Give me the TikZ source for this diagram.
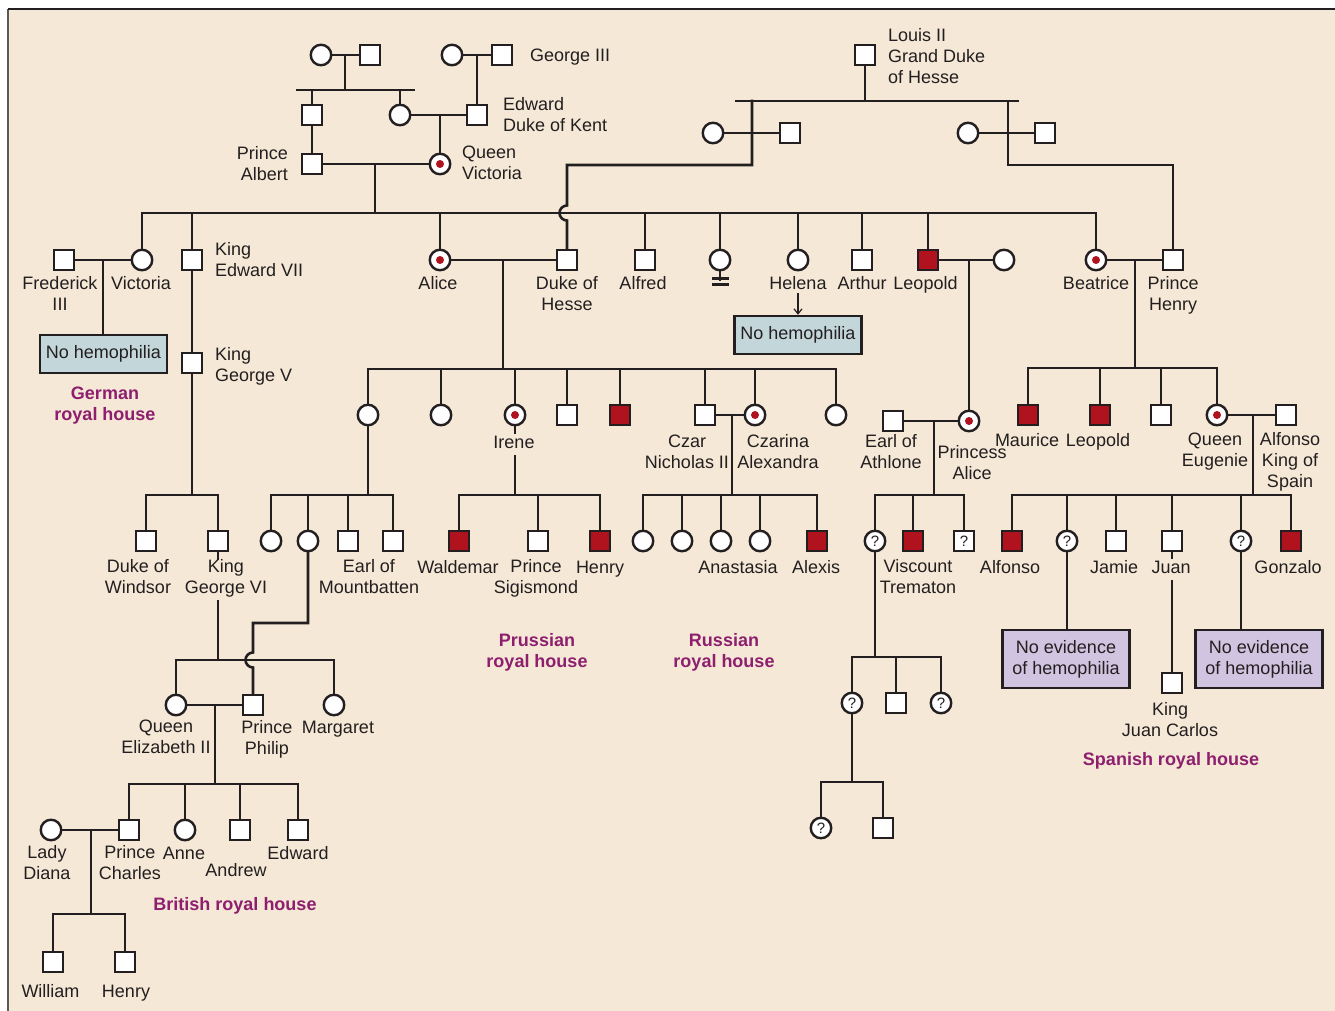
\documentclass[tikz,border=0pt]{standalone}
\usepackage{fontspec}
\setmainfont{Liberation Sans}
\usetikzlibrary{arrows.meta}
\definecolor{paper}{RGB}{245,232,214}
\definecolor{ink}{RGB}{35,31,32}
\definecolor{hemo}{RGB}{176,18,30}
\definecolor{housec}{RGB}{142,30,110}
\definecolor{noblue}{RGB}{195,214,218}
\definecolor{nolilac}{RGB}{208,196,224}
\begin{document}
\begin{tikzpicture}[x=1pt,y=-1pt,
  ln/.style={draw=ink,line width=2.6pt,line cap=rect},
  ind/.style={draw=ink,fill=white,line width=2.4pt,minimum size=20.5pt,inner sep=0pt,
    text=ink,font=\fontsize{15}{15}\selectfont},
  male/.style={ind,rectangle},
  female/.style={ind,circle},
  sick/.style={male,fill=hemo},
  carrier/.style={female,path picture={\fill[hemo] (path picture bounding box.center) circle[radius=4pt];}},
  lbl/.style={font=\fontsize{18}{21}\selectfont,text=ink,inner sep=0pt,align=center,
    execute at begin node=\strut,execute at end node=\strut,yshift=-2.3pt},
  cut/.style={lbl,fill=paper,inner xsep=1pt,inner ysep=0pt},
  housename/.style={font=\fontsize{18}{21}\selectfont\bfseries,text=housec,inner sep=0pt,align=center,
    execute at begin node=\strut,execute at end node=\strut,yshift=-2.3pt},
  note/.style={draw=ink,line width=2.4pt,font=\fontsize{18}{21}\selectfont,text=ink,
    inner sep=0pt,align=center,minimum width=127pt},
  notea/.style={note,fill=noblue,minimum height=38pt},
  noteb/.style={note,fill=nolilac,minimum height=58pt},
  hint/.style={draw=ink,line width=1.2pt,-{Straight Barb[length=5pt,width=8pt]}}
]
\useasboundingbox (0,0) rectangle (1335,1011);
\fill[white] (0,0) rectangle (1335,1011);
\fill[paper] (8,9) rectangle (1335,1011);
\draw[line width=2pt,draw=black!65] (8,1011) -- (8,9);
\draw[line width=2pt,draw=ink] (8,9) -- (1335,9);

% ---------- oldest generations ----------
\node[female] (pw) at (321,55) {};
\node[male] (ph) at (370,55) {};
\node[female] (gw) at (452,55) {};
\node[male] (geo) at (502,55) {};
\node[male] (ernst) at (312,115) {};
\node[female] (vmo) at (400,115) {};
\node[male] (kent) at (477,115) {};
\node[male] (albert) at (312,164) {};
\node[carrier] (qvic) at (440,164) {};

\coordinate (pm) at (345,55);
\coordinate (ps) at (345,90);
\coordinate (psl) at (297,90);
\coordinate (psr) at (414,90);
\draw[ln] (pw) -- (ph);
\draw[ln] (pm) -- (ps);
\draw[ln] (psl) -- (psr);
\draw[ln] (ernst.north) -- (ernst.north |- ps);
\draw[ln] (vmo.north) -- (vmo.north |- ps);
\draw[ln] (gw) -- (geo);
\coordinate (gm) at (477,55);
\draw[ln] (gm) -- (kent);
\draw[ln] (vmo) -- (kent);
\coordinate (km) at (440,115);
\draw[ln] (km) -- (qvic);
\draw[ln] (ernst) -- (albert);
\draw[ln] (albert) -- (qvic);

% ---------- house of Hesse ----------
\node[male] (louis) at (865,55) {};
\node[female] (hw1) at (713,133) {};
\node[male] (hh1) at (790,133) {};
\node[female] (hw2) at (968,133) {};
\node[male] (hh2) at (1045,133) {};
\coordinate (hm) at (865,101);
\coordinate (hsl) at (736,101);
\coordinate (hsr) at (1018,101);
\draw[ln] (louis) -- (hm);
\draw[ln] (hsl) -- (hsr);
\draw[ln] (hw1) -- (hh1);
\draw[ln] (hw2) -- (hh2);

% ---------- children of Victoria and Albert ----------
\node[male] (fred) at (64,260) {};
\node[female] (vicd) at (142,260) {};
\node[male] (ed7) at (192,260) {};
\node[carrier] (alice) at (440,260) {};
\node[male] (hesse) at (567,260) {};
\node[male] (alfred) at (645,260) {};
\node[female] (infant) at (720,260) {};
\node[female] (helena) at (798,260) {};
\node[male] (arthur) at (862,260) {};
\node[sick] (leo) at (928,260) {};
\node[female] (leow) at (1004,260) {};
\node[carrier] (bea) at (1096,260) {};
\node[male] (henry) at (1173,260) {};
\node[male] (geo5) at (192,363) {};

\coordinate (vm) at (375,164);
\coordinate (vs) at (375,213);
\draw[ln] (vm) -- (vs);
\draw[ln] (vicd.north |- vs) -- (bea.north |- vs);
\foreach \c in {vicd,ed7,alice,alfred,infant,helena,arthur,leo,bea}
  \draw[ln] (\c.north) -- (\c.north |- vs);

% sons of Louis II reaching their brides
\coordinate (ha) at (752,101);
\coordinate (hb) at (1008,101);
\draw[ln] (ha) -- (752,165) -- (567,165) -- (567,205.5)
  .. controls (562.9,205.5) and (559.5,208.9) .. (559.5,213)
  .. controls (559.5,217.1) and (562.9,220.5) .. (567,220.5) -- (hesse.north);
\draw[ln] (hb) -- (1008,165) -| (henry.north);

% early death mark
\draw[ln] (infant.south) -- ++(0,8);
\coordinate (inb1) at (712,278.5);
\coordinate (inb2) at (712,284.5);
\draw[draw=ink,line width=2.2pt] (inb1) -- ++(17,0);
\draw[draw=ink,line width=2.2pt] (inb2) -- ++(17,0);

% Frederick III and Victoria
\node[notea] (nh1) at (103.5,354) {No hemophilia};
\draw[ln] (fred) -- (vicd);
\coordinate (fm) at (103,260);
\draw[ln] (fm) -- (fm |- nh1.north);

% Edward VII line
\coordinate (e7s) at (192,495);
\draw[ln] (ed7) -- (geo5);
\draw[ln] (geo5) -- (e7s);

% Leopold and Beatrice couples
\draw[ln] (leo) -- (leow);
\draw[ln] (bea) -- (henry);
\draw[ln] (alice) -- (hesse);

% ---------- grandchildren ----------
% Alice and Duke of Hesse
\node[female] (a1) at (368,415) {};
\node[female] (a2) at (441,415) {};
\node[carrier] (irene) at (515,415) {};
\node[male] (a4) at (567,415) {};
\node[sick] (a5) at (620,415) {};
\node[male] (nich) at (705,415) {};
\node[carrier] (alex) at (755,415) {};
\node[female] (a8) at (836,415) {};
\coordinate (alm) at (503,260);
\coordinate (als) at (503,369);
\draw[ln] (alm) -- (als);
\draw[ln] (a1.north |- als) -- (a8.north |- als);
\foreach \c in {a1,a2,irene,a4,a5,nich,alex,a8}
  \draw[ln] (\c.north) -- (\c.north |- als);

% Leopold's daughter and Earl of Athlone
\node[carrier] (palice) at (969,421) {};
\node[male] (athl) at (893,421) {};
\coordinate (lem) at (969,260);
\draw[ln] (lem) -- (palice);
\draw[ln] (athl) -- (palice);

% Beatrice and Prince Henry
\node[sick] (maurice) at (1028,415) {};
\node[sick] (leob) at (1100,415) {};
\node[male] (b3) at (1161,415) {};
\node[carrier] (eug) at (1217,415) {};
\node[male] (alf13) at (1286,415) {};
\coordinate (bem) at (1135,260);
\coordinate (bes) at (1135,368);
\draw[ln] (bem) -- (bes);
\draw[ln] (maurice.north |- bes) -- (eug.north |- bes);
\foreach \c in {maurice,leob,b3,eug}
  \draw[ln] (\c.north) -- (\c.north |- bes);
\draw[ln] (eug) -- (alf13);

% Edward VII's sons
\node[male] (windsor) at (146,541) {};
\node[male] (geo6) at (218,541) {};
\draw[ln] (windsor.north |- e7s) -- (geo6.north |- e7s);
\foreach \c in {windsor,geo6}
  \draw[ln] (\c.north) -- (\c.north |- e7s);

% ---------- great-grandchildren ----------
\node[female] (c1) at (271,541) {};
\node[female] (palb) at (308,541) {};
\node[male] (c3) at (348,541) {};
\node[male] (mount) at (393,541) {};
\coordinate (a1s) at (368,495);
\draw[ln] (a1) -- (a1s);
\draw[ln] (c1.north |- a1s) -- (mount.north |- a1s);
\foreach \c in {c1,palb,c3,mount}
  \draw[ln] (\c.north) -- (\c.north |- a1s);

\node[sick] (wald) at (459,541) {};
\node[male] (sigis) at (538,541) {};
\node[sick] (henp) at (600,541) {};
\coordinate (irs) at (515,495);
\draw[ln] (irene) -- (irs);
\draw[ln] (wald.north |- irs) -- (henp.north |- irs);
\foreach \c in {wald,sigis,henp}
  \draw[ln] (\c.north) -- (\c.north |- irs);

\node[female] (r1) at (643,541) {};
\node[female] (r2) at (682,541) {};
\node[female] (r3) at (721,541) {};
\node[female] (r4) at (760,541) {};
\node[sick] (alexis) at (817,541) {};
\draw[ln] (nich) -- (alex);
\coordinate (nm) at (732,415);
\coordinate (ns) at (732,495);
\draw[ln] (nm) -- (ns);
\draw[ln] (r1.north |- ns) -- (alexis.north |- ns);
\foreach \c in {r1,r2,r3,r4,alexis}
  \draw[ln] (\c.north) -- (\c.north |- ns);

\node[female] (t1) at (875,541) {?};
\node[sick] (trem) at (913,541) {};
\node[male] (t3) at (964,541) {?};
\coordinate (atm) at (934,421);
\coordinate (ats) at (934,495);
\draw[ln] (atm) -- (ats);
\draw[ln] (t1.north |- ats) -- (t3.north |- ats);
\foreach \c in {t1,trem,t3}
  \draw[ln] (\c.north) -- (\c.north |- ats);

\node[sick] (alfj) at (1012,541) {};
\node[female] (s1) at (1067,541) {?};
\node[male] (jamie) at (1116,541) {};
\node[male] (juan) at (1172,541) {};
\node[female] (s2) at (1241,541) {?};
\node[sick] (gonz) at (1291,541) {};
\coordinate (em) at (1253,415);
\coordinate (es) at (1253,495);
\draw[ln] (em) -- (es);
\draw[ln] (alfj.north |- es) -- (gonz.north |- es);
\foreach \c in {alfj,s1,jamie,juan,s2,gonz}
  \draw[ln] (\c.north) -- (\c.north |- es);

\node[noteb] (ne1) at (1066,659) {No evidence\\of hemophilia};
\node[noteb] (ne2) at (1259,659) {No evidence\\of hemophilia};
\node[male] (jcarlos) at (1172,683) {};
\draw[ln] (s1) -- (s1 |- ne1.north);
\draw[ln] (s2) -- (s2 |- ne2.north);
\draw[ln] (juan) -- (jcarlos);

% Athlone descendants
\node[female] (u1) at (852,703) {?};
\node[male] (u2) at (896,703) {};
\node[female] (u3) at (941,703) {?};
\coordinate (t1s) at (875,657);
\draw[ln] (t1) -- (t1s);
\draw[ln] (u1.north |- t1s) -- (u3.north |- t1s);
\foreach \c in {u1,u2,u3}
  \draw[ln] (\c.north) -- (\c.north |- t1s);
\node[female] (w1) at (821,828) {?};
\node[male] (w2) at (883,828) {};
\coordinate (u1s) at (852,782);
\draw[ln] (u1) -- (u1s);
\draw[ln] (w1.north |- u1s) -- (w2.north |- u1s);
\foreach \c in {w1,w2}
  \draw[ln] (\c.north) -- (\c.north |- u1s);

% ---------- British line ----------
\node[female] (eliz) at (176,705) {};
\node[male] (phil) at (253,705) {};
\node[female] (marg) at (334,705) {};
\coordinate (g6s) at (218,660);
\draw[ln] (geo6) -- (g6s);
\draw[ln] (eliz.north |- g6s) -- (marg.north |- g6s);
\foreach \c in {eliz,marg}
  \draw[ln] (\c.north) -- (\c.north |- g6s);
\draw[ln] (palb) -- (308,623) -- (253,623) -- (253,652.5)
  .. controls (248.9,652.5) and (245.5,655.9) .. (245.5,660)
  .. controls (245.5,664.1) and (248.9,667.5) .. (253,667.5) -- (phil.north);
\draw[ln] (eliz) -- (phil);

\node[male] (charles) at (129,830) {};
\node[female] (anne) at (185,830) {};
\node[male] (andrew) at (240,830) {};
\node[male] (edw) at (298,830) {};
\coordinate (qm) at (215,705);
\coordinate (qs) at (215,784);
\draw[ln] (qm) -- (qs);
\draw[ln] (charles.north |- qs) -- (edw.north |- qs);
\foreach \c in {charles,anne,andrew,edw}
  \draw[ln] (\c.north) -- (\c.north |- qs);

\node[female] (diana) at (51,830) {};
\node[male] (will) at (53,962) {};
\node[male] (harry) at (125,962) {};
\draw[ln] (diana) -- (charles);
\coordinate (dm) at (91,830);
\coordinate (ds) at (91,914);
\draw[ln] (dm) -- (ds);
\draw[ln] (will.north |- ds) -- (harry.north |- ds);
\foreach \c in {will,harry}
  \draw[ln] (\c.north) -- (\c.north |- ds);

% ---------- names ----------
\node[lbl,anchor=west] (tgeo) at (530,55) {George III};
\node[lbl,anchor=west,align=left] (tkent) at (503,115.5) {Edward\\Duke of Kent};
\node[lbl,anchor=east,align=right] (talb) at (288,164) {Prince\\Albert};
\node[lbl,anchor=west,align=left] (tqv) at (462,164) {Queen\\Victoria};
\node[lbl,anchor=west,align=left] (tlouis) at (888,56.5) {Louis II\\Grand Duke\\of Hesse};

\node[lbl] (tfred) at (60,294) {Frederick\\III};
\node[lbl] (tvicd) at (141,283) {Victoria};
\node[lbl,anchor=west,align=left] (ted7) at (215,260.5) {King\\Edward VII};
\node[lbl,anchor=west,align=left] (tgeo5) at (215,365) {King\\George V};
\node[lbl] (talice) at (438,283) {Alice};
\node[lbl] (thesse) at (567,294) {Duke of\\Hesse};
\node[lbl] (talfred) at (643,283) {Alfred};
\node[lbl] (thelena) at (798,283) {Helena};
\node[lbl] (tarthur) at (862,283) {Arthur};
\node[lbl] (tleo) at (925.5,283) {Leopold};
\node[lbl] (tbea) at (1096,283) {Beatrice};
\node[lbl] (thenry) at (1173,294) {Prince\\Henry};
\node[notea] (nh2) at (798,335) {No hemophilia};
\draw[hint] (798,293) -- (nh2.north);

\node[cut] (tirene) at (514,442) {Irene};
\node[lbl] (tnich) at (687,452.5) {Czar\\Nicholas II};
\node[lbl] (talex) at (778,452.5) {Czarina\\Alexandra};
\node[lbl] (tathl) at (891,452.5) {Earl of\\Athlone};
\node[lbl] (tpal) at (972,463.5) {Princess\\Alice};
\node[lbl] (tmaur) at (1027,440) {Maurice};
\node[lbl] (tleob) at (1098,440) {Leopold};
\node[lbl] (teug) at (1215,450.5) {Queen\\Eugenie};
\node[lbl] (talf13) at (1290,461) {Alfonso\\King of\\Spain};

\node[lbl] (twind) at (138,577.5) {Duke of\\Windsor};
\node[cut] (tgeo6) at (226,577.5) {King\\George VI};
\node[lbl] (tmount) at (369,577.5) {Earl of\\Mountbatten};
\node[lbl] (twald) at (458,567) {Waldemar};
\node[lbl] (tsig) at (536,577.5) {Prince\\Sigismond};
\node[lbl] (thenp) at (600,567) {Henry};
\node[lbl] (tanast) at (738,567) {Anastasia};
\node[lbl] (talexis) at (816,567) {Alexis};
\node[lbl] (ttrem) at (918,577.5) {Viscount\\Trematon};
\node[lbl] (talfj) at (1010,567) {Alfonso};
\node[lbl] (tjamie) at (1114,567) {Jamie};
\node[cut] (tjuan) at (1171,567) {Juan};
\node[lbl] (tgonz) at (1288,567) {Gonzalo};
\node[lbl] (tjc) at (1170,720) {King\\Juan Carlos};

\node[lbl] (teliz) at (166,738) {Queen\\Elizabeth II};
\node[lbl] (tphil) at (267,738) {Prince\\Philip};
\node[lbl] (tmarg) at (338,727) {Margaret};
\node[lbl] (tdiana) at (47,863) {Lady\\Diana};
\node[lbl] (tcharles) at (130,863) {Prince\\Charles};
\node[lbl] (tanne) at (184,853) {Anne};
\node[lbl] (tandrew) at (236,870) {Andrew};
\node[lbl] (tedw) at (298,853) {Edward};
\node[lbl] (twill) at (50.5,991) {William};
\node[lbl] (tharry) at (126,991) {Henry};

% ---------- royal houses ----------
\node[housename] (hgerman) at (105,405) {German\\royal house};
\node[housename] (hprussia) at (537,651) {Prussian\\royal house};
\node[housename] (hrussia) at (724,651) {Russian\\royal house};
\node[housename] (hspain) at (1171,759) {Spanish royal house};
\node[housename] (hbritain) at (235,904) {British royal house};
\end{tikzpicture}
\end{document}
